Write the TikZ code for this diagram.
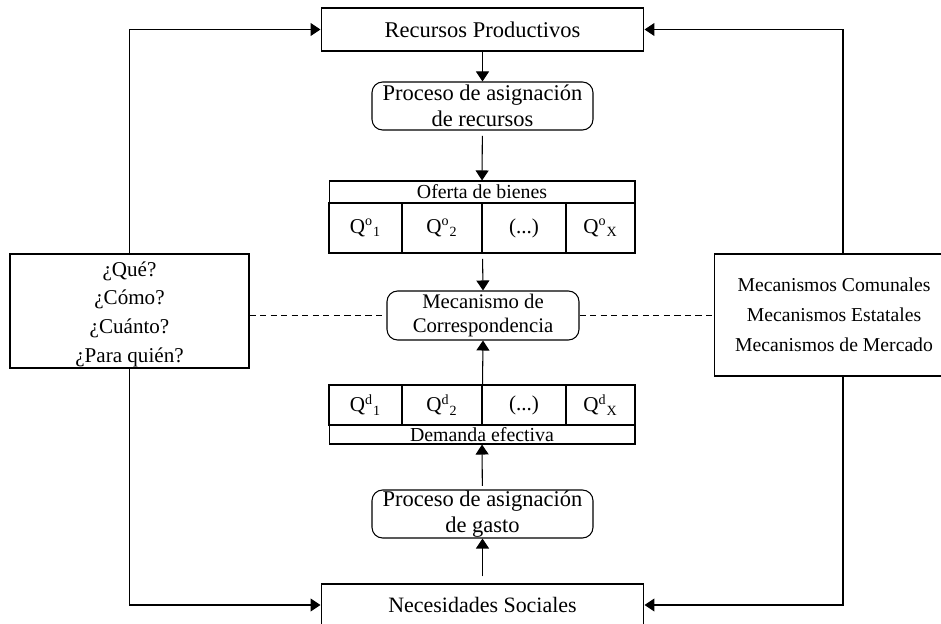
\documentclass[tikz,border=0pt]{standalone}
\usepackage{fontspec}
\setmainfont{Liberation Serif}
\usetikzlibrary{arrows.meta}

\begin{document}
\begin{tikzpicture}[x=0.02cm,y=-0.02cm,line width=0.6pt,
    font=\fontsize{12}{14.4}\selectfont,
    caja/.style = {draw, rectangle, inner sep=0pt, align=center},
    proceso/.style = {draw, rounded corners=6pt, minimum width=4.42cm, minimum height=0.96cm, inner sep=0pt, align=center, font=\fontsize{12.8}{14.6}\selectfont},
    celda/.style = {draw, minimum height=1cm, inner sep=0pt},
    flecha/.style = {-{Triangle[length=2mm,width=2.6mm]}},
    guion/.style = {dash pattern=on 3.5pt off 2.5pt}]
            \useasboundingbox (0,0) rectangle (941,624);
            \node[caja, minimum width=6.46cm, minimum height=0.86cm, font=\fontsize{12.8}{14.6}\selectfont] (rec) at (482.5,29.5) {Recursos Productivos};
            \node[proceso] (pra) at (482.5,106) {Proceso de asignación\\de recursos};
            \node[celda, minimum width=6.12cm, minimum height=0.44cm, font=\fontsize{11.3}{13}\selectfont] (of) at (482,192) {\raisebox{-2.5pt}{Oferta de bienes}};
            \node[celda, minimum width=1.46cm] (qo1) at (365.5,228) {Q\textsuperscript{o}\textsubscript{1}};
            \node[celda, minimum width=1.6cm] (qo2) at (442,228) {Q\textsuperscript{o}\textsubscript{2}};
            \node[celda, minimum width=1.68cm] (qo3) at (524,228) {(...)};
            \node[celda, minimum width=1.38cm] (qo4) at (600.5,228) {Q\textsuperscript{o}\textsubscript{X}};
            \node[proceso, minimum width=3.84cm, minimum height=0.98cm, font=\fontsize{11.8}{14}\selectfont] (mec) at (483,315.5) {Mecanismo de\\Correspondencia};
            \node[celda, minimum width=1.46cm, minimum height=0.8cm] (qd1) at (365.5,405) {Q\textsuperscript{d}\textsubscript{1}};
            \node[celda, minimum width=1.6cm, minimum height=0.8cm] (qd2) at (442,405) {Q\textsuperscript{d}\textsubscript{2}};
            \node[celda, minimum width=1.68cm, minimum height=0.8cm] (qd3) at (524,405) {(...)};
            \node[celda, minimum width=1.38cm, minimum height=0.8cm] (qd4) at (600.5,405) {Q\textsuperscript{d}\textsubscript{X}};
            \node[celda, minimum width=6.12cm, minimum height=0.38cm, font=\fontsize{11.3}{13}\selectfont] (de) at (482,434.5) {\raisebox{-2pt}{Demanda efectiva}};
            \node[proceso] (prg) at (482.5,514) {Proceso de asignación\\de gasto};
            \node[caja, minimum width=6.46cm, minimum height=0.84cm, font=\fontsize{12.5}{14.4}\selectfont] (nec) at (482.5,605) {Necesidades Sociales};
            \node[caja, minimum width=4.78cm, minimum height=2.28cm, font=\fontsize{12}{16.4}\selectfont] (pre) at (129.5,311) {\rule{0pt}{12pt}¿Qué?\\¿Cómo?\\¿Cuánto?\\¿Para quién?};
            \node[caja, minimum width=4.8cm, minimum height=2.44cm, font=\fontsize{11.2}{17}\selectfont] (mct) at (834,315) {Mecanismos Comunales\\Mecanismos Estatales\\Mecanismos de Mercado};
            \draw[flecha] (rec) -- (pra);
            \draw[flecha, shorten <=3pt] (pra) -- (of);
            \draw[flecha, shorten <=3pt] (qo2.south east) -- (mec.north);
            \draw[flecha] (qd2.north east) -- (mec.south);
            \draw[flecha, shorten <=2pt] (prg) -- (de);
            \draw[flecha, shorten <=4pt] (nec) -- (prg);
            \draw[flecha] (pre.north) |- (rec.west);
            \draw[flecha] (pre.south) |- (nec.west);
            \draw[flecha] ([xshift=0.18cm]mct.north) |- (rec.east);
            \draw[flecha] ([xshift=0.18cm]mct.south) |- (nec.east);
            \draw[guion] (pre.east |- mec.west) -- (mec.west);
            \draw[guion] (mec.east) -- (mct.west |- mec.east);
        \end{tikzpicture}
\end{document}
